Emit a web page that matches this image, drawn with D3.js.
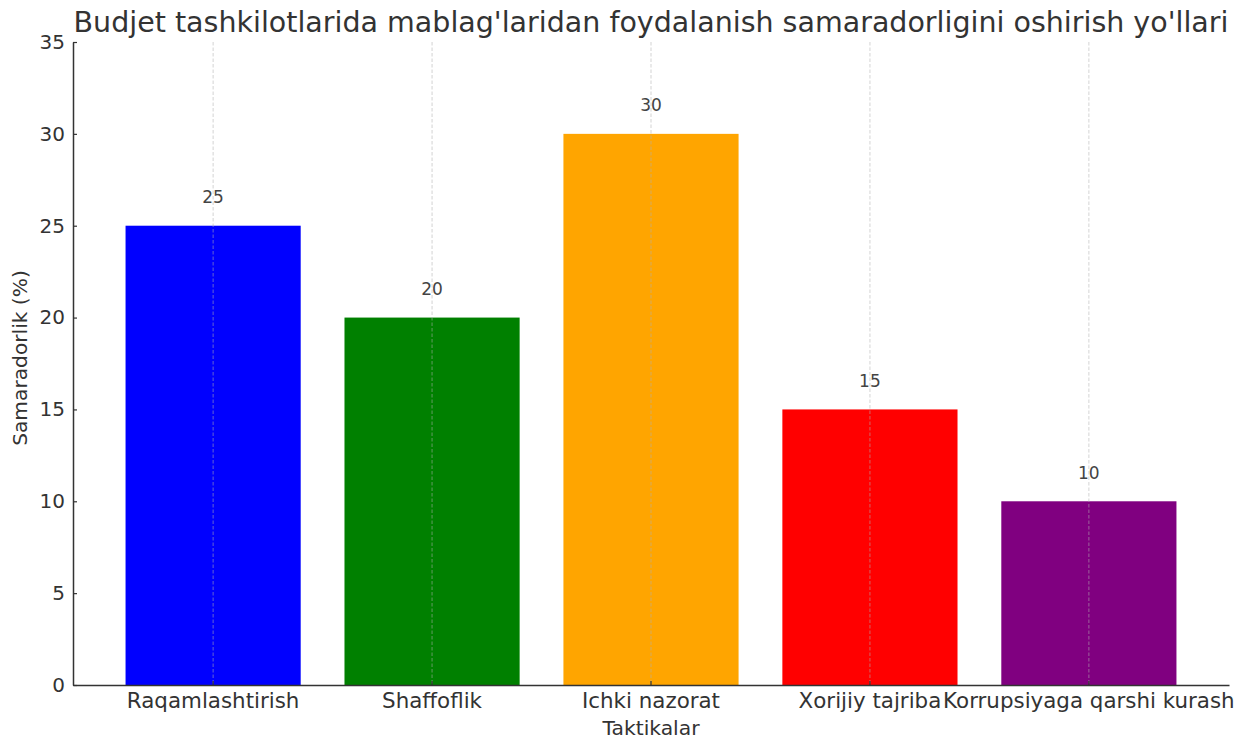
<!DOCTYPE html>
<html>
<head>
<meta charset="utf-8">
<script src="https://cdn.jsdelivr.net/npm/d3@7"></script>
<style>
  body { margin: 0; background: #fff; }
  text { font-family: "DejaVu Sans", sans-serif; }
</style>
</head>
<body>
<div id="graph"></div>
<script>
// chart data
const categories = ['Raqamlashtirish', 'Shaffoflik', 'Ichki nazorat', 'Xorijiy tajriba', 'Korrupsiyaga qarshi kurash'];
const values = [25, 20, 30, 15, 10];
const barColors = ['blue', 'green', 'orange', 'red', 'purple'];
const yTicks = [0, 5, 10, 15, 20, 25, 30, 35];

const titleText = "Budjet tashkilotlarida mablag'laridan foydalanish samaradorligini oshirish yo'llari";
const xLabel = 'Taktikalar';
const yLabel = 'Samaradorlik (%)';

drawChart();

function drawChart() {
  // svg size and plot area
  const w = 1248;
  const h = 740;
  const left = 73, right = 1229, top = 42, bottom = 685;
  const textColor = '#333';

  const svg = d3.select('#graph')
    .append('svg')
    .attr('width', w)
    .attr('height', h);

  // Scales
  const xScale = d3.scaleBand()
    .domain(categories)
    .range([left, right])
    .paddingInner(0.2)
    .paddingOuter(0.24);

  const yScale = d3.scaleLinear()
    .domain([0, 35])
    .range([bottom, top]);

  // Bars
  svg.selectAll('rect.bar')
    .data(values)
    .enter()
    .append('rect')
    .attr('class', 'bar')
    .attr('x', (d, i) => xScale(categories[i]))
    .attr('y', (d) => yScale(d))
    .attr('width', xScale.bandwidth())
    .attr('height', (d) => yScale(0) - yScale(d))
    .attr('fill', (d, i) => barColors[i]);

  // vertical dashed grid (drawn over the bars)
  svg.selectAll('line.grid')
    .data(categories)
    .enter()
    .append('line')
    .attr('class', 'grid')
    .attr('x1', (d) => xScale(d) + xScale.bandwidth() / 2)
    .attr('x2', (d) => xScale(d) + xScale.bandwidth() / 2)
    .attr('y1', yScale(35))
    .attr('y2', yScale(0))
    .attr('stroke', '#b0b0b0')
    .attr('stroke-opacity', 0.7)
    .attr('stroke-width', 0.8)
    .attr('stroke-dasharray', '3.5,2');

  // value labels, one unit above each bar
  svg.selectAll('text.value')
    .data(values)
    .enter()
    .append('text')
    .attr('class', 'value')
    .attr('x', (d, i) => xScale(categories[i]) + xScale.bandwidth() / 2)
    .attr('y', (d) => yScale(d + 1) - 4)
    .attr('text-anchor', 'middle')
    .attr('font-size', 17)
    .attr('fill', '#444')
    .text((d) => d);

  // Axes
  const xAxis = d3.axisBottom(xScale).tickSizeInner(-4).tickSizeOuter(0).tickPadding(7.5);
  const yAxis = d3.axisLeft(yScale).tickValues(yTicks).tickSizeInner(-4).tickSizeOuter(0).tickPadding(8);

  const gx = svg.append('g')
    .attr('transform', 'translate(0,' + bottom + ')')
    .call(xAxis);
  gx.selectAll('text').attr('font-size', 21.4).attr('fill', textColor).style('font-family', '"DejaVu Sans", sans-serif');

  const gy = svg.append('g')
    .attr('transform', 'translate(' + left + ',0)')
    .call(yAxis);
  gy.selectAll('text').attr('font-size', 20).attr('fill', textColor).style('font-family', '"DejaVu Sans", sans-serif');

  [gx, gy].forEach((g) => {
    g.select('.domain').attr('stroke', '#333').attr('stroke-width', 1.5);
    g.selectAll('.tick line').attr('stroke', '#333').attr('stroke-width', 1.2);
  });

  // Title
  svg.append('text')
    .attr('x', (left + right) / 2)
    .attr('y', 32)
    .attr('text-anchor', 'middle')
    .attr('font-size', 28.5)
    .attr('fill', textColor)
    .text(titleText);

  // Axis labels
  svg.append('text')
    .attr('x', (left + right) / 2)
    .attr('y', 735)
    .attr('text-anchor', 'middle')
    .attr('font-size', 20.3)
    .attr('fill', textColor)
    .text(xLabel);

  svg.append('text')
    .attr('transform', 'translate(27,358) rotate(-90)')
    .attr('text-anchor', 'middle')
    .attr('font-size', 20.2)
    .attr('fill', textColor)
    .text(yLabel);
}
</script>
</body>
</html>
